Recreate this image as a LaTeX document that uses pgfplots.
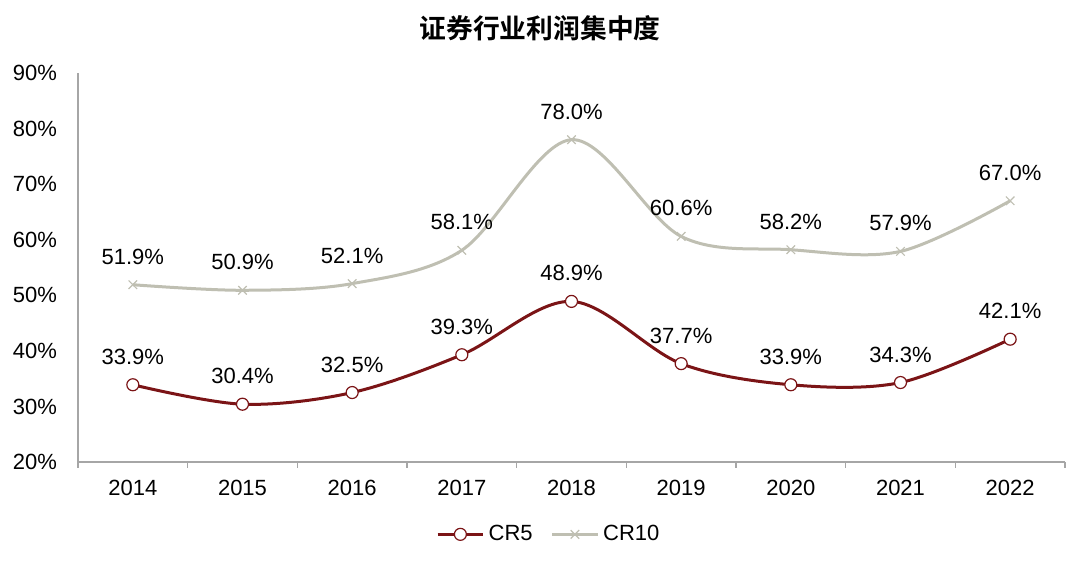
\documentclass[border=0pt]{standalone}
\usepackage{fontspec}
\setmainfont{Liberation Sans}
\newfontfamily\cjk{Noto Sans CJK SC}[BoldFont={Noto Sans CJK SC Bold}]
\usepackage{pgfplots}
\pgfplotsset{compat=1.18}
\definecolor{crfive}{HTML}{7B1416}
\definecolor{crten}{HTML}{BFBFB2}
\definecolor{axgray}{HTML}{A6A6A6}
\begin{document}
\begin{tikzpicture}
\path[use as bounding box] (0,0) rectangle (540pt,280.5pt);
\begin{axis}[
  at={(39pt,49.5pt)}, anchor=south west,
  scale only axis, width=493.5pt, height=194.5pt,
  xmin=-0.5, xmax=8.5, ymin=20, ymax=90,
  axis lines=left, axis line style={draw=axgray, line width=0.6pt, -},
  xtick={0,...,8},
  xticklabels={2014,2015,2016,2017,2018,2019,2020,2021,2022},
  extra x ticks={-0.5,0.5,...,8.5},
  extra x tick labels={},
  extra x tick style={major tick length=3pt, tick style={draw=axgray, line width=0.6pt}, tick align=outside},
  major tick length=0pt,
  ytick={20,30,...,90},
  yticklabel={\pgfmathprintnumber{\tick}\%},
  /pgf/number format/assume math mode=true,
  tick label style={font=\fontsize{11}{13}\selectfont, text=black},
  xticklabel style={yshift=-5.5pt},
  yticklabel style={xshift=-7pt},
  legend style={at={(0.478,-0.186)}, anchor=center, draw=none, legend columns=2,
    font=\fontsize{11}{13}\selectfont, /tikz/every even column/.append style={column sep=7pt}},
  legend image code/.code={\draw[mark repeat=2,mark phase=2] plot coordinates {(0cm,0cm) (0.4cm,0cm) (0.8cm,0cm)};},
  nodes near coords={\pgfmathprintnumber[fixed,fixed zerofill,precision=1]{\pgfplotspointmeta}\%},
  every node near coord/.append style={font=\fontsize{11}{13}\selectfont, text=black, yshift=6.5pt},
  clip=false,
]
\addplot[crfive, line width=1.5pt, smooth, tension=0.55, mark=*, mark size=3pt, mark options={fill=white, draw=crfive, line width=0.6pt}]
coordinates {(0,33.9) (1,30.4) (2,32.5) (3,39.3) (4,48.9) (5,37.7) (6,33.9) (7,34.3) (8,42.1)};
\addlegendentry{CR5}
\addplot[crten, line width=1.5pt, smooth, tension=0.55, mark=x, mark size=3pt, mark options={draw=crten, line width=0.6pt}]
coordinates {(0,51.9) (1,50.9) (2,52.1) (3,58.1) (4,78.0) (5,60.6) (6,58.2) (7,57.9) (8,67.0)};
\addlegendentry{CR10}
\end{axis}
\node at (270pt,266.5pt) {\cjk\bfseries\fontsize{13.4}{15}\selectfont 证券行业利润集中度};
\end{tikzpicture}
\end{document}
